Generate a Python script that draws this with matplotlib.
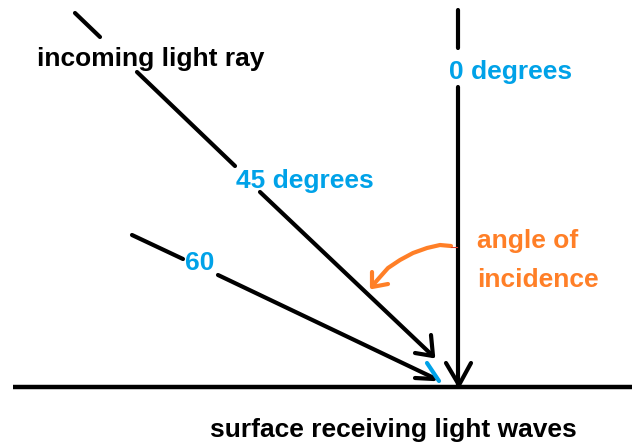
import numpy as np
import matplotlib
matplotlib.use("Agg")
import matplotlib.pyplot as plt

BLUE = "#00a2e8"
ORANGE = "#ff7f27"

# black strokes (pixel coords of the drawing), each a list of (x, y)
surface_x = [13, 632]
surface_y = [387, 387]
normal_x = [[458, 458], [458, 458]]
normal_y = [[10, 48], [87, 385]]
ray45_x = [[75, 100], [137, 235], [260, 433]]
ray45_y = [[13, 37], [72, 166], [192, 356]]
ray60_x = [[132, 183], [218, 434]]
ray60_y = [[235, 259], [275, 378]]
heads_x = [[446, 459, 471], [431, 433, 415], [415, 434]]
heads_y = [[363, 385, 363], [335, 356, 353], [378, 379]]
tick_x = [427, 439]
tick_y = [363, 381]

arc_x = [451, 440, 427, 413, 400, 388, 380, 373]
arc_y = [246, 245, 248, 253, 260, 268, 277, 285]
arc_head_x = [372, 372, 388]
arc_head_y = [272, 287, 284]

labels = ["incoming light ray", "0 degrees", "45 degrees", "60",
          "angle of", "incidence", "surface receiving light waves"]
label_x = [37, 449, 236, 185, 477, 477, 210]
label_y = [66, 79, 188, 270, 248, 287, 437]
label_c = ["black", BLUE, BLUE, BLUE, ORANGE, ORANGE, "black"]

fig = plt.figure(figsize=(6.32, 4.47), dpi=100)
ax = fig.add_axes([0, 0, 1, 1])
ax.set_xlim(0, 632)
ax.set_ylim(447, 0)
ax.axis("off")

kw = dict(color="black", lw=3, solid_capstyle="round", solid_joinstyle="round")
ax.plot(surface_x, surface_y, color="black", lw=3.2, solid_capstyle="butt")
for xs, ys in zip(normal_x + ray45_x + ray60_x + heads_x, normal_y + ray45_y + ray60_y + heads_y):
    ax.plot(xs, ys, **kw)
ax.plot(tick_x, tick_y, color=BLUE, lw=3, solid_capstyle="round")

ax.plot(arc_x, arc_y, color=ORANGE, lw=3, solid_capstyle="round", solid_joinstyle="round")
ax.plot(arc_head_x, arc_head_y, color=ORANGE, lw=3, solid_capstyle="round", solid_joinstyle="round")
ax.plot([451, 457], [247, 247], color="#e04030", lw=0.8)

for t, x, y, c in zip(labels, label_x, label_y, label_c):
    ax.text(x, y, t, color=c, fontsize=19, fontweight="bold",
            family="Liberation Sans", ha="left", va="baseline")

fig.savefig("out.png", dpi=100)
